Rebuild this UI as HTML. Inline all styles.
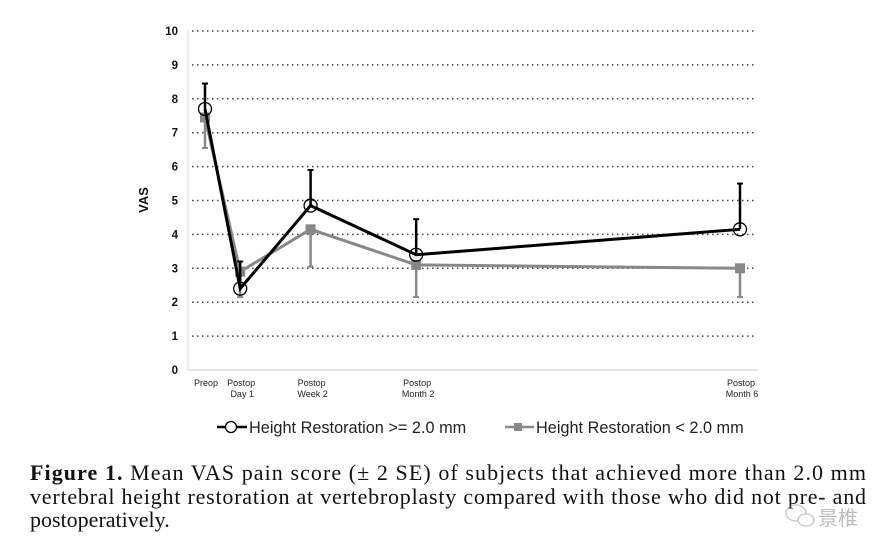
<!DOCTYPE html>
<html><head><meta charset="utf-8"><style>
body{margin:0;background:#fff;width:885px;height:553px;overflow:hidden}
svg{display:block}
</style></head><body>
<svg id="chart" width="885" height="553" font-family="Liberation Sans, Arial, sans-serif">
<g id="grid"></g>
<g id="yticks"></g>
<g id="xticks"></g>
<text transform="translate(148,200) rotate(-90)" text-anchor="middle" font-size="13" font-weight="bold" fill="#111">VAS</text>
<g id="series"></g>
<g>
 <g>
  <line x1="217" y1="427" x2="247" y2="427" stroke="#000" stroke-width="2.5"/>
  <circle cx="231" cy="427" r="5.5" fill="#fff" stroke="#000" stroke-width="1.3"/>
  <text x="249" y="433" font-size="16.3" fill="#222">Height Restoration &gt;= 2.0 mm</text>
 </g>
 <g>
  <line x1="505" y1="427" x2="534" y2="427" stroke="#888" stroke-width="2.5"/>
  <rect x="514" y="423" width="8" height="8" fill="#888"/>
  <text x="536" y="433" font-size="16.3" fill="#222">Height Restoration &lt; 2.0 mm</text>
 </g>
</g>
<g font-family="Liberation Serif, serif" font-size="22" fill="#111">
 <text x="30" y="480" textLength="836" lengthAdjust="spacing"><tspan font-weight="bold">Figure 1.</tspan>   Mean VAS pain score (± 2 SE) of subjects that achieved more than 2.0 mm</text>
 <text x="30" y="504" textLength="836" lengthAdjust="spacing">vertebral height restoration at vertebroplasty compared with those who did not pre- and</text>
 <text x="30" y="527">postoperatively.</text>
</g>
<g opacity="0.55">
 <ellipse cx="796" cy="513" rx="10" ry="8" fill="none" stroke="#999" stroke-width="1.3"/>
 <ellipse cx="806" cy="520" rx="8" ry="6" fill="#fff" stroke="#999" stroke-width="1.3"/>
 <text x="818" y="525" font-family="Noto Sans CJK SC, sans-serif" font-size="20" fill="#888">景椎</text>
</g>
</svg>
<script>
const categories=["Preop","Postop|Day 1","Postop|Week 2","Postop|Month 2","Postop|Month 6"];
const catX=[0,1,3,6,15.2];
const highMean=[7.7,2.4,4.85,3.4,4.15];
const highUpper=[8.45,3.2,5.9,4.45,5.5];
const lowMean=[7.45,2.9,4.15,3.1,3.0];
const lowLower=[6.55,2.15,3.05,2.15,2.15];
const yTicks=[0,1,2,3,4,5,6,7,8,9,10];

const NS="http://www.w3.org/2000/svg";
const y=v=>370-v*33.9;
const x=i=>205+(catX[i]-catX[0])*(740-205)/(catX[4]-catX[0]);
function mk(tag,attrs,parent){const e=document.createElementNS(NS,tag);for(const k in attrs)e.setAttribute(k,attrs[k]);parent.appendChild(e);return e;}
const grid=document.getElementById('grid'),yt=document.getElementById('yticks'),xt=document.getElementById('xticks'),ser=document.getElementById('series');
mk('line',{x1:188,y1:30,x2:188,y2:370,stroke:'#ddd','stroke-width':1},grid);
mk('line',{x1:188,y1:370,x2:758,y2:370,stroke:'#ddd','stroke-width':1.5},grid);
yTicks.forEach(v=>{
  if(v>0){const l=mk('line',{x1:192,y1:y(v),x2:754,y2:y(v),stroke:'#444','stroke-width':1.5,'stroke-dasharray':'1.5 3.5'},grid);
  
  }
  const t=mk('text',{x:178,y:y(v)+4,'text-anchor':'end','font-size':11.5,'font-weight':'bold',fill:'#111'},yt);
  t.textContent=v;
  
  
});
categories.forEach((c,i)=>{
  const t=mk('text',{x:x(i)+1,y:386,'text-anchor':'middle','font-size':9,fill:'#222'},xt);
  
  
  c.split('|').forEach((s,j)=>{const ts=mk('tspan',{x:x(i)+(j?2:1),dy:j?11:0},t);ts.textContent=s;});
});
lowMean.forEach((v,i)=>{
  const e=mk('line',{x1:x(i),y1:y(v),x2:x(i),y2:y(lowLower[i]),stroke:'#888','stroke-width':2.5},ser);
  
  
  mk('line',{x1:x(i)-3,y1:y(lowLower[i]),x2:x(i)+3,y2:y(lowLower[i]),stroke:'#888','stroke-width':2},ser);
});
const pl=mk('polyline',{points:lowMean.map((v,i)=>x(i)+','+y(v)).join(' '),fill:'none',stroke:'#888','stroke-width':3},ser);


lowMean.forEach((v,i)=>{
  const r=mk('rect',{x:x(i)-5,y:y(v)-5,width:10,height:10,fill:'#888'},ser);
  
  
});
highMean.forEach((v,i)=>{
  const e=mk('line',{x1:x(i),y1:y(v),x2:x(i),y2:y(highUpper[i]),stroke:'#000','stroke-width':2.5},ser);
  
  
  mk('line',{x1:x(i)-3,y1:y(highUpper[i]),x2:x(i)+3,y2:y(highUpper[i]),stroke:'#000','stroke-width':2},ser);
});
const ph=mk('polyline',{points:highMean.map((v,i)=>x(i)+','+y(v)).join(' '),fill:'none',stroke:'#000','stroke-width':3},ser);


highMean.forEach((v,i)=>{
  const c=mk('circle',{cx:x(i),cy:y(v),r:6.5,fill:'none',stroke:'#000','stroke-width':1.3},ser);
  
  
});
</script>
</body></html>
